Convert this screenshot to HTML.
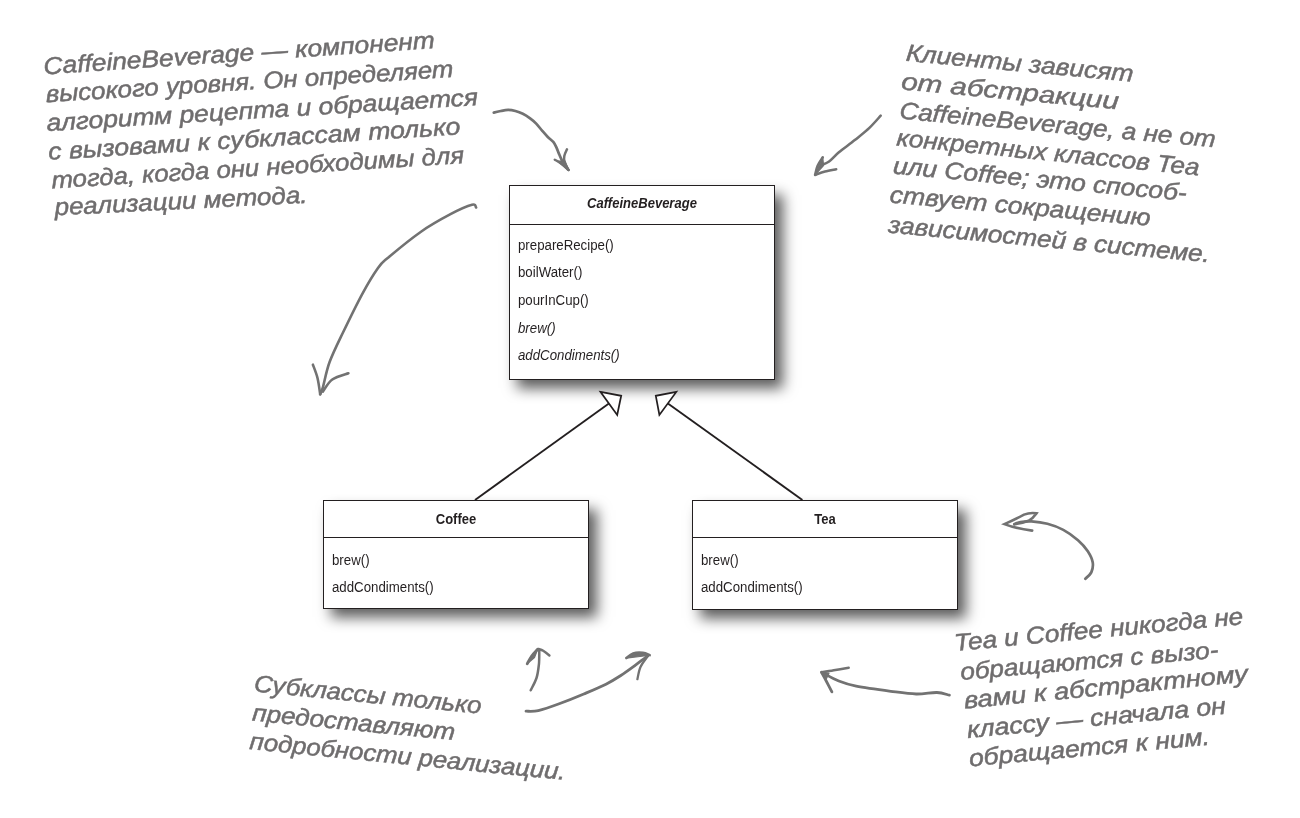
<!DOCTYPE html>
<html>
<head>
<meta charset="utf-8">
<title>Template Method — Hollywood Principle</title>
<style>
html,body{margin:0;padding:0;background:#fff;}
body{width:1300px;height:818px;position:relative;overflow:hidden;font-family:"Liberation Sans",sans-serif;}
.box{position:absolute;will-change:transform;box-sizing:border-box;border:1px solid #231f20;background:#fff;box-shadow:8px 8.5px 13px rgba(0,0,0,.64);}
.box .hd{position:absolute;left:0;right:0;top:0;border-bottom:1px solid #231f20;box-sizing:border-box;}
.box .ttl{position:absolute;left:0;right:0;text-align:center;font-weight:bold;font-size:15.5px;line-height:18px;color:#231f20;transform:scaleX(.84);transform-origin:50% 50%;white-space:nowrap;}
.box .m{position:absolute;left:8px;font-size:15.5px;line-height:18px;color:#231f20;transform:scaleX(.855);transform-origin:0 50%;white-space:nowrap;}
.i{font-style:italic;}
svg{position:absolute;left:0;top:0;will-change:transform;}
.hw{font-family:"Liberation Sans",sans-serif;font-style:italic;font-size:24px;fill:#6f6d6e;stroke:#6f6d6e;stroke-width:.5px;}
.ar{fill:none;stroke:#727272;stroke-width:2.5;stroke-linecap:round;stroke-linejoin:round;}
.af{fill:#727272;stroke:#727272;stroke-width:1.2;stroke-linejoin:round;}
</style>
</head>
<body>

<!-- CaffeineBeverage -->
<div class="box" style="left:509px;top:185px;width:266px;height:195px;">
  <div class="hd" style="height:39px;"></div>
  <div class="ttl i" style="top:8px;">CaffeineBeverage</div>
  <div class="m" style="top:50px;">prepareRecipe()</div>
  <div class="m" style="top:77px;">boilWater()</div>
  <div class="m" style="top:105px;">pourInCup()</div>
  <div class="m i" style="top:133px;">brew()</div>
  <div class="m i" style="top:160px;">addCondiments()</div>
</div>

<!-- Coffee -->
<div class="box" style="left:323px;top:500px;width:266px;height:109px;">
  <div class="hd" style="height:37px;"></div>
  <div class="ttl" style="top:9px;">Coffee</div>
  <div class="m" style="top:50px;">brew()</div>
  <div class="m" style="top:77px;">addCondiments()</div>
</div>

<!-- Tea -->
<div class="box" style="left:692px;top:500px;width:266px;height:110px;">
  <div class="hd" style="height:37px;"></div>
  <div class="ttl" style="top:9px;">Tea</div>
  <div class="m" style="top:50px;">brew()</div>
  <div class="m" style="top:77px;">addCondiments()</div>
</div>

<svg width="1300" height="818" viewBox="0 0 1300 818">
<!-- SVGCONTENT -->
<g stroke="#231f20" stroke-width="1.9" fill="none" stroke-linecap="butt">
<line x1="475" y1="500" x2="608.9" y2="403.4"/>
<line x1="802.4" y1="500" x2="667.9" y2="403.4"/>
<polygon points="600.6,391.9 621.2,395.8 617.2,414.9" fill="#fff" stroke-width="1.75" stroke-linejoin="miter"/>
<polygon points="676.3,391.9 655.8,395.8 659.4,414.9" fill="#fff" stroke-width="1.75" stroke-linejoin="miter"/>
</g>
<text class="hw" transform="translate(44.0,74.4) rotate(-3.84)" textLength="392.1" lengthAdjust="spacingAndGlyphs">CaffeineBeverage — компонент</text>
<text class="hw" transform="translate(46.2,102.2) rotate(-3.55)" textLength="408.4" lengthAdjust="spacingAndGlyphs">высокого уровня. Он определяет</text>
<text class="hw" transform="translate(47.1,131.0) rotate(-3.44)" textLength="432.0" lengthAdjust="spacingAndGlyphs">алгоритм рецепта и обращается</text>
<text class="hw" transform="translate(48.8,159.8) rotate(-3.53)" textLength="412.8" lengthAdjust="spacingAndGlyphs">с вызовами к субклассам только</text>
<text class="hw" transform="translate(52.0,188.4) rotate(-3.52)" textLength="413.2" lengthAdjust="spacingAndGlyphs">тогда, когда они необходимы для</text>
<text class="hw" transform="translate(55.0,215.3) rotate(-2.83)" textLength="253.1" lengthAdjust="spacingAndGlyphs">реализации метода.</text>
<text class="hw" transform="translate(905.5,60.7) rotate(5.30)" textLength="228.2" lengthAdjust="spacingAndGlyphs">Клиенты зависят</text>
<text class="hw" transform="translate(900.7,89.2) rotate(5.27)" textLength="218.4" lengthAdjust="spacingAndGlyphs">от абстракции</text>
<text class="hw" transform="translate(898.9,118.5) rotate(5.19)" textLength="317.4" lengthAdjust="spacingAndGlyphs">CaffeineBeverage, а не от</text>
<text class="hw" transform="translate(895.9,145.5) rotate(5.63)" textLength="304.4" lengthAdjust="spacingAndGlyphs">конкретных классов Tea</text>
<text class="hw" transform="translate(892.4,173.5) rotate(5.34)" textLength="294.9" lengthAdjust="spacingAndGlyphs">или Coffee; это способ-</text>
<text class="hw" transform="translate(889.3,202.4) rotate(5.15)" textLength="261.6" lengthAdjust="spacingAndGlyphs">ствует сокращению</text>
<text class="hw" transform="translate(887.7,232.5) rotate(5.31)" textLength="323.0" lengthAdjust="spacingAndGlyphs">зависимостей в системе.</text>
<text class="hw" transform="translate(253.6,691.4) rotate(5.61)" textLength="228.3" lengthAdjust="spacingAndGlyphs">Субклассы только</text>
<text class="hw" transform="translate(251.7,720.6) rotate(5.50)" textLength="203.6" lengthAdjust="spacingAndGlyphs">предоставляют</text>
<text class="hw" transform="translate(249.1,749.1) rotate(5.58)" textLength="317.2" lengthAdjust="spacingAndGlyphs">подробности реализации.</text>
<text class="hw" transform="translate(955.1,651.0) rotate(-5.33)" textLength="290.0" lengthAdjust="spacingAndGlyphs">Tea и Coffee никогда не</text>
<text class="hw" transform="translate(961.0,680.1) rotate(-4.97)" textLength="259.0" lengthAdjust="spacingAndGlyphs">обращаются с вызо-</text>
<text class="hw" transform="translate(964.7,708.5) rotate(-5.46)" textLength="284.8" lengthAdjust="spacingAndGlyphs">вами к абстрактному</text>
<text class="hw" transform="translate(967.7,737.9) rotate(-5.38)" textLength="259.9" lengthAdjust="spacingAndGlyphs">классу — сначала он</text>
<text class="hw" transform="translate(969.7,766.4) rotate(-5.20)" textLength="241.7" lengthAdjust="spacingAndGlyphs">обращается к ним.</text>
<path class="ar" style="stroke-width:2.7" d="M493.8,112.6 C495.0,112.3 498.4,111.5 500.8,111.0 C503.2,110.5 505.7,109.9 508.1,109.9 C510.5,109.9 513.0,110.3 515.4,111.0 C517.8,111.7 520.3,112.6 522.8,113.8 C525.2,115.0 527.9,116.8 530.1,118.4 C532.3,120.0 534.2,121.5 536.2,123.6 C538.2,125.7 540.4,128.7 542.3,130.9 C544.2,133.1 546.0,135.2 547.8,137.0 C549.6,138.8 551.9,140.2 553.3,141.9 C554.7,143.6 555.4,145.2 556.4,147.4 C557.4,149.6 558.5,152.7 559.4,154.8 C560.3,157.0 561.1,158.7 561.9,160.3 C562.7,161.9 563.3,163.0 564.3,164.5 C565.3,166.0 567.2,168.4 567.8,169.2"/>
<path class="ar"  d="M554.8,159.7 C555.8,160.3 558.7,161.8 561.0,163.5 C563.3,165.2 567.3,168.9 568.6,170.0"/>
<path class="ar"  d="M567.0,149.3 C566.5,150.4 564.7,153.9 564.3,156.0 C563.9,158.1 563.8,159.7 564.5,162.0 C565.2,164.3 567.9,168.7 568.6,170.0"/>
<path class="af" d="M557.5,161.2 L565.0,161.0 L568.8,170.2 Z"/>
<path class="ar" style="stroke-width:2.6" d="M476.1,207.5 C475.4,207.1 476.3,203.7 472.0,204.8 C467.7,205.9 459.0,209.7 450.5,214.2 C442.0,218.7 431.3,224.5 421.0,231.7 C410.7,238.9 395.9,251.1 388.7,257.2 C381.5,263.2 382.5,261.7 378.0,268.0 C373.5,274.3 367.6,284.1 361.8,294.8 C356.0,305.6 348.4,321.3 343.0,332.5 C337.6,343.7 333.0,352.8 329.6,362.0 C326.2,371.2 324.4,382.2 322.8,387.6 C321.2,393.0 320.6,393.2 320.2,394.3"/>
<path class="ar" style="stroke-width:2.6" d="M312.9,364.7 C313.7,366.9 316.3,373.1 317.5,378.0 C318.7,382.9 319.8,391.6 320.2,394.3"/>
<path class="ar" style="stroke-width:2.6" d="M348.4,373.3 C345.7,374.3 336.6,376.4 332.3,379.5 C328.0,382.6 324.4,389.6 322.8,391.6"/>
<path class="ar" style="stroke-width:2.6" d="M880.7,115.7 C878.8,117.7 873.7,123.8 869.4,127.9 C865.1,132.0 859.9,136.0 854.8,140.1 C849.7,144.2 843.2,148.7 838.9,152.3 C834.6,155.9 832.0,159.4 829.1,161.5 C826.2,163.6 822.8,164.4 821.5,165.0"/>
<path class="ar"  d="M822.8,157.2 C821.9,158.7 818.8,163.1 817.5,166.0 C816.2,168.9 815.5,173.4 815.1,174.9"/>
<path class="ar"  d="M815.1,174.9 C816.8,174.3 821.5,172.4 825.0,171.5 C828.5,170.6 834.3,169.6 836.2,169.2"/>
<path class="af" d="M822.8,157.2 L815.1,174.9 L823.5,165.5 Z"/>
<path class="ar" style="stroke-width:2.7" d="M1085.3,578.8 C1086.3,577.7 1090.2,574.9 1091.4,572.1 C1092.6,569.4 1093.3,565.8 1092.7,562.3 C1092.1,558.8 1090.2,555.0 1087.8,551.3 C1085.3,547.6 1082.1,543.9 1078.0,540.3 C1073.9,536.7 1068.4,532.6 1063.3,529.9 C1058.2,527.1 1052.7,525.2 1047.4,523.8 C1042.1,522.4 1036.0,521.7 1031.5,521.4 C1027.0,521.1 1023.4,521.5 1020.5,522.0 C1017.6,522.5 1015.4,523.8 1014.4,524.2"/>
<path class="ar" style="stroke-width:2.6;stroke-linejoin:miter;stroke-miterlimit:6" d="M1032.2,530.6 Q1016,528.6 1004.4,524.1 Q1015,519.4 1024,514.6 Q1030,512.2 1036.6,513.3 Q1033,518.5 1028.5,520.8 Q1021.5,523.6 1014.4,524.2"/>
<path class="ar" style="stroke-width:2.8" d="M949.4,695.2 C947.3,694.8 942.4,692.7 936.9,692.5 C931.4,692.3 923.9,694.2 916.2,694.0 C908.5,693.8 900.8,692.6 890.8,691.3 C880.8,690.0 864.9,687.9 856.2,686.2 C847.5,684.5 844.4,683.2 838.8,681.0 C833.2,678.8 825.4,674.2 822.7,672.9"/>
<path class="ar"  d="M848.7,667.7 C846.5,668.1 839.9,669.2 835.4,670.0 C830.9,670.8 823.8,671.9 821.5,672.3"/>
<path class="ar" style="stroke-width:2.8" d="M821.5,672.3 C822.3,673.8 824.8,678.2 826.5,681.5 C828.2,684.8 831.0,690.2 831.9,691.9"/>
<path class="af" d="M821.3,672.2 L829.0,673.2 L826.0,679.5 Z"/>
<path class="ar" style="stroke-width:2.5" d="M530.7,690.3 C531.7,688.2 535.1,682.3 536.5,678.0 C537.9,673.7 538.4,669.1 538.9,664.5 C539.4,659.9 539.2,652.7 539.3,650.3"/>
<path class="ar" style="stroke-width:2.8" d="M527.2,663.8 C527.9,662.5 529.8,658.6 531.5,656.2 C533.2,653.8 536.7,650.4 537.7,649.2"/>
<path class="ar"  d="M538.5,649.0 C539.3,649.3 541.4,649.7 543.2,650.8 C545.0,651.9 548.4,654.6 549.4,655.4"/>
<path class="af" d="M527.2,663.8 L537.7,649.2 L534.5,657.5 Z"/>
<path class="ar" style="stroke-width:2.8" d="M526.0,711.2 C528.0,711.1 532.8,711.8 538.3,710.6 C543.8,709.4 551.6,706.6 559.2,703.8 C566.8,701.0 576.0,697.3 583.8,694.0 C591.6,690.7 599.8,687.3 606.0,684.2 C612.2,681.1 616.3,678.4 620.8,675.5 C625.3,672.6 628.6,670.2 633.1,666.9 C637.6,663.6 645.3,657.6 647.8,655.8"/>
<path class="ar"  d="M626.3,658.1 C627.4,657.3 630.3,654.3 633.1,653.4 C635.9,652.5 640.1,652.5 642.9,652.8 C645.7,653.1 648.6,654.8 649.7,655.2"/>
<path class="ar" style="stroke-width:2.3" d="M648.0,655.8 C646.8,657.6 642.3,663.0 640.5,666.9 C638.7,670.8 637.9,677.2 637.4,679.2"/>
<path class="af" d="M626.3,658.1 L633.5,654.0 L642.9,653.0 L649.7,655.2 L640.0,656.5 Z"/>
</svg>

</body>
</html>
